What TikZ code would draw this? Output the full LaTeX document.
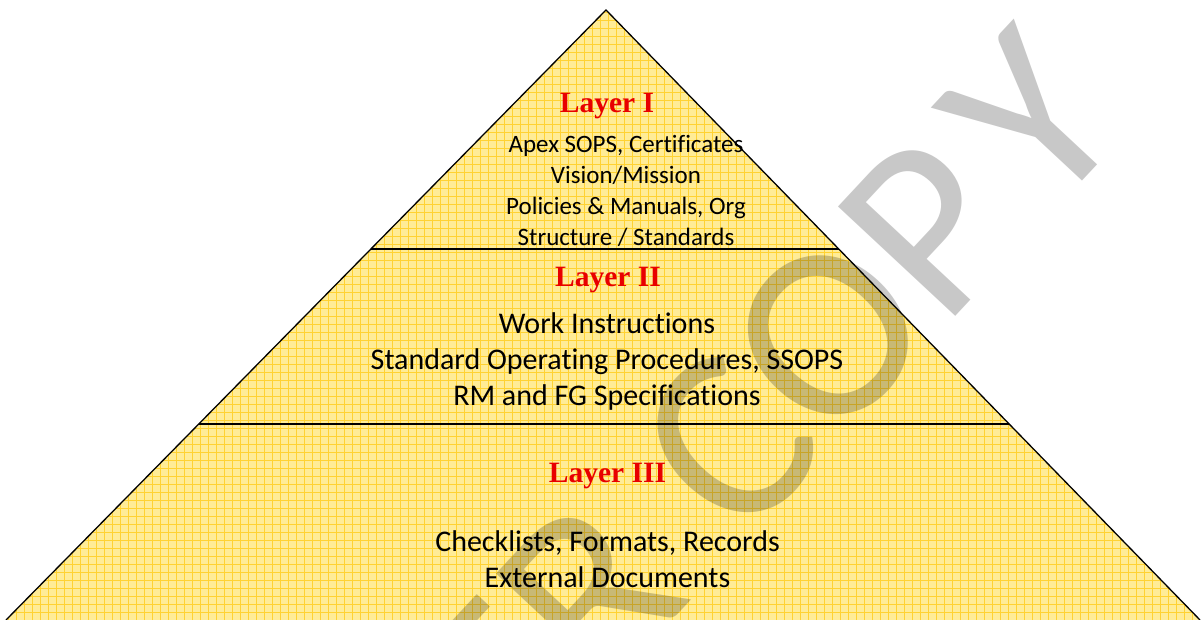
\documentclass[tikz,border=0pt]{standalone}
\usepackage{fontspec}
\setmainfont{Carlito}[Ligatures={NoCommon}]
\newfontfamily\layerfont{Liberation Serif}
\usepackage{tikz}
\usetikzlibrary{calc, positioning}
\definecolor{cPyramid}{RGB}{255,236,150}
\definecolor{cGrid}{RGB}{255,210,50}
\definecolor{cTitle}{RGB}{232,0,0}
\definecolor{cStamp}{RGB}{200,200,200}
\tikzset{
	pyramid/.style   ={fill=cPyramid},
	pyrgrid/.style   ={draw=cGrid, line width=0.9pt, step=8},
	edgeline/.style  ={draw=black, line width=1.3pt, line join=miter},
	divider/.style   ={draw=black, line width=1.3pt},
	layertitle/.style={font=\layerfont\bfseries\fontsize{29.5}{34}\selectfont, text=cTitle, inner sep=0pt},
	layertext/.style ={font=\fontsize{30}{36}\selectfont, align=center, inner sep=0pt},
	% watermark letters
	stamp/.style     ={font=\fontsize{250}{250}\selectfont, text=cStamp, inner sep=0pt, rotate=47, anchor=base east},
}

\begin{document}
\begin{tikzpicture}[x=1pt, y=1pt]
	\useasboundingbox (0,0) rectangle (1201,620);
	\coordinate (apex)  at (606,610);
	\coordinate (baseL) at (6,0);
	\coordinate (baseR) at (1200,0);
	\coordinate (d1L) at ($(apex)!0.3918!(baseL)$);
	\coordinate (d1R) at ($(apex)!0.3918!(baseR)$);
	\coordinate (d2L) at ($(apex)!0.6787!(baseL)$);
	\coordinate (d2R) at ($(apex)!0.6787!(baseR)$);
	% yellow body and its grid
	\fill[pyramid] (apex) -- (baseL) -- (baseR) -- cycle;
	\begin{scope}
		\clip (apex) -- (baseL) -- (baseR) -- cycle;
		\draw[pyrgrid] (0,0) grid (1208,616);
	\end{scope}
	% watermark, cut by the page edge
	\begin{scope}[blend mode=multiply]
		\clip (0,0) rectangle (1201,620);
		\node[stamp] (stamp) at (1132,492) {ER\kern12pt\ COP\kern25pt Y};
	\end{scope}
	\draw[edgeline] (baseL) -- (apex) -- (baseR);
	\draw[divider] (d1L) -- (d1R);
	\draw[divider] (d2L) -- (d2R);
	% layer texts
	\node[layertitle] (t1) at (607,514) {Layer I};
	\node[layertext, font=\fontsize{25}{31}\selectfont] (b1) at (626,429) {Apex SOPS, Certificates\\ Vision/Mission\\ Policies \& Manuals, Org\\ Structure / Standards};
	\node[layertitle] (t2) at (608,340) {Layer II};
	\node[layertext] (b2) at (607,258) {Work Instructions\\ Standard Operating Procedures, SSOPS\\ RM and FG Specifications};
	\node[layertitle] (t3) at (607.5,144) {Layer III};
	\node[layertext] (b3) at (607.5,61) {Checklists, Formats, Records\\ External Documents};
\end{tikzpicture}
\end{document}
